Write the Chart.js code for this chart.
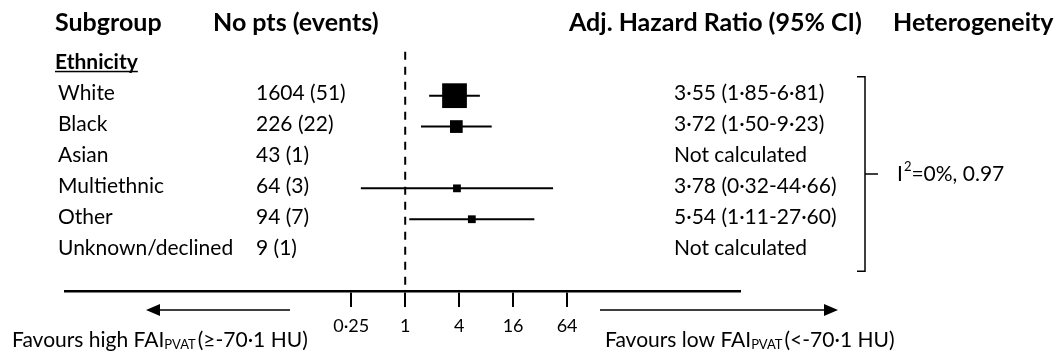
<!DOCTYPE html>
<html>
<head>
<meta charset="utf-8">
<script src="https://cdn.jsdelivr.net/npm/chart.js@4.4.1/dist/chart.umd.min.js"></script>
<style>
  html, body { margin: 0; padding: 0; background: #fff; }
  #wrap { width: 1062px; height: 354px; }
</style>
</head>
<body>
<div id="wrap"><canvas id="forest" width="1062" height="354"></canvas></div>
<script>
/* forest plot - adjusted hazard ratio by ethnicity */

const groupTitle = 'Ethnicity';
const subgroups = ['White', 'Black', 'Asian', 'Multiethnic', 'Other', 'Unknown/declined'];
const patients = [1604, 226, 43, 64, 94, 9];
const events = [51, 22, 1, 3, 7, 1];
const hazardRatio = [3.55, 3.72, null, 3.78, 5.54, null];
const ciLow = [1.85, 1.50, null, 0.32, 1.11, null];
const ciHigh = [6.81, 9.23, null, 44.66, 27.60, null];
const tickValues = [0.25, 1, 4, 16, 64];
const tickLabels = ['0·25', '1', '4', '16', '64'];
const hetI2 = '0%';
const hetP = '0.97';

const FONT = 'Lato, "Open Sans", sans-serif';
const dot = v => v.toFixed(2).replace('.', '·');

// box size ~ inverse variance weight (log scale SE from CI)
const weights = hazardRatio.map((hr, i) => {
  if (hr == null) return 0;
  const se = (Math.log(ciHigh[i]) - Math.log(ciLow[i])) / 3.92;
  return 1 / (se * se);
});
const maxW = Math.max(...weights);
const boxRadius = weights.map(w => Math.max(5.5, 17.5 * w / maxW));

// datasets
const pointData = [], pointRadii = [];
const ciSets = [];
subgroups.forEach((s, i) => {
  if (hazardRatio[i] == null) return;
  pointData.push({ x: hazardRatio[i], y: i + 1 });
  pointRadii.push(boxRadius[i]);
  ciSets.push({
    type: 'line',
    data: [{ x: ciLow[i], y: i + 1 }, { x: ciHigh[i], y: i + 1 }],
    borderColor: '#000',
    borderWidth: 2,
    pointRadius: 0,
    order: 1
  });
});

function text(ctx, str, x, y, size, bold, align) {
  ctx.font = (bold ? 'bold ' : '') + size + 'px ' + FONT;
  ctx.textAlign = align || 'left';
  ctx.fillText(str, x, y);
  return ctx.measureText(str).width;
}

// reference line at HR = 1 (drawn under the boxes)
const refLine = {
  id: 'refLine',
  beforeDatasetsDraw(chart) {
    const { ctx, chartArea, scales: { x, y } } = chart;
    const px = x.getPixelForValue(1);
    ctx.save();
    ctx.strokeStyle = '#000';
    ctx.lineWidth = 2;
    ctx.setLineDash([8, 7]);
    ctx.beginPath();
    ctx.moveTo(px, y.getPixelForValue(-0.42));
    ctx.lineTo(px, chartArea.bottom);
    ctx.stroke();
    ctx.restore();
  }
};

// table columns, bracket, arrows
const table = {
  id: 'table',
  afterDraw(chart) {
    const { ctx, chartArea, scales: { y } } = chart;
    ctx.save();
    ctx.fillStyle = '#000';
    ctx.textBaseline = 'middle';

    // header row
    const hy = y.getPixelForValue(-1.35);
    text(ctx, 'Subgroup', 55, hy, 25, true);
    text(ctx, 'No pts (events)', 213, hy, 25, true);
    text(ctx, 'Adj. Hazard Ratio (95% CI)', 569, hy, 25, true);
    text(ctx, 'Heterogeneity', 893, hy, 25, true);

    // group title, underlined
    const ty = y.getPixelForValue(0) - 3;
    const tw = text(ctx, groupTitle, 55, ty, 21, true);
    ctx.fillRect(55, ty + 9, tw, 1.5);

    subgroups.forEach((s, i) => {
      const ry = y.getPixelForValue(i + 1) - 2;
      text(ctx, s, 58, ry, 21);
      text(ctx, patients[i] + ' (' + events[i] + ')', 256, ry, 21);
      const hr = hazardRatio[i] == null ? 'Not calculated'
        : dot(hazardRatio[i]) + ' (' + dot(ciLow[i]) + '-' + dot(ciHigh[i]) + ')';
      text(ctx, hr, 674, ry, 21);
    });

    // heterogeneity bracket
    const top = y.getPixelForValue(0.39), bot = y.getPixelForValue(6.68);
    const mid = (top + bot) / 2;
    ctx.strokeStyle = '#000';
    ctx.lineWidth = 1.5;
    ctx.beginPath();
    ctx.moveTo(857, top); ctx.lineTo(865, top); ctx.lineTo(865, bot); ctx.lineTo(857, bot);
    ctx.moveTo(865, mid); ctx.lineTo(878, mid);
    ctx.stroke();
    let hx = 897;
    hx += text(ctx, 'I', hx, mid, 21);
    hx += text(ctx, '2', hx + 1, mid - 7, 13) + 1;
    text(ctx, '=' + hetI2 + ', ' + hetP, hx, mid, 21);

    // direction arrows
    const ay = chartArea.bottom + 19;
    ctx.lineWidth = 1.5;
    ctx.beginPath();
    ctx.moveTo(290, ay); ctx.lineTo(158, ay);
    ctx.moveTo(600, ay); ctx.lineTo(826, ay);
    ctx.stroke();
    ctx.beginPath();
    ctx.moveTo(146, ay); ctx.lineTo(160, ay - 6); ctx.lineTo(160, ay + 6); ctx.closePath();
    ctx.moveTo(838, ay); ctx.lineTo(824, ay - 6); ctx.lineTo(824, ay + 6); ctx.closePath();
    ctx.fill();

    // favours labels with subscript
    const fy = chartArea.bottom + 49;
    const favours = (x0, a, b) => {
      let fx = x0;
      fx += text(ctx, a, fx, fy, 21);
      fx += text(ctx, 'PVAT', fx, fy + 5, 13);
      text(ctx, b, fx + 2, fy, 21);
    };
    favours(12, 'Favours high FAI', '(≥-70·1 HU)');
    favours(605, 'Favours low FAI', '(<-70·1 HU)');
    ctx.restore();
  }
};

new Chart(document.getElementById('forest'), {
  type: 'scatter',
  data: {
    datasets: [{
      data: pointData,
      pointStyle: 'rect',
      pointRadius: pointRadii,
      pointHoverRadius: pointRadii,
      backgroundColor: '#000',
      borderColor: '#000',
      borderWidth: 0,
      order: 0
    }, ...ciSets]
  },
  options: {
    responsive: false,
    animation: false,
    events: [],
    layout: { autoPadding: false, padding: { left: 65, right: 322, top: 3, bottom: 9.5 } },
    plugins: { legend: { display: false }, tooltip: { enabled: false } },
    scales: {
      x: {
        type: 'logarithmic',
        min: 1.6e-4,
        max: 5440,
        afterBuildTicks: s => { s.ticks = tickValues.map(v => ({ value: v })); },
        ticks: {
          autoSkip: false,
          maxRotation: 0,
          padding: 8,
          color: '#000',
          font: { family: FONT, size: 18 },
          callback: (v, i) => tickLabels[i]
        },
        grid: { drawOnChartArea: false, drawTicks: true, tickLength: 16, color: '#000', lineWidth: 2 },
        border: { display: true, color: '#000', width: 2.5 }
      },
      y: { type: 'linear', min: -2, max: 7.32, reverse: true, display: false }
    }
  },
  plugins: [refLine, table]
});
</script>
</body>
</html>
